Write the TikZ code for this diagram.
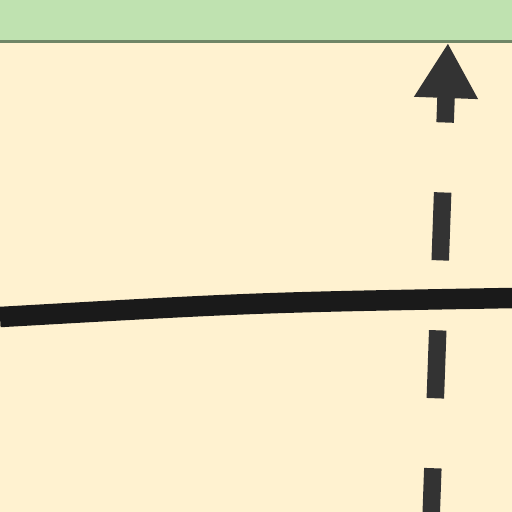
\documentclass[tikz,border=0pt]{standalone}
\usepackage{tikz}
\usetikzlibrary{arrows.meta, positioning}
\definecolor{laneYellow}{RGB}{255,242,208}
\definecolor{goalGreen}{RGB}{191,226,176}
\definecolor{goalEdge}{RGB}{112,134,102}
\definecolor{flowGray}{RGB}{51,51,51}
\definecolor{routeBlack}{RGB}{26,26,26}

\begin{document}
\begin{tikzpicture}[x=0.02cm, y=-0.02cm,
    goal/.style={draw=goalEdge, line width=0.06cm, fill=goalGreen, rectangle, inner sep=0pt},
    dep/.style={draw=flowGray, line width=0.35cm, dash pattern=on 1.36cm off 1.4cm, dash phase=0.80cm, {Triangle[length=1.1cm, width=1.2cm]}-},
    route/.style={draw=routeBlack, line width=0.41cm}]
    % Frame
    \useasboundingbox (0,0) rectangle (512,512);
    \clip (0,0) rectangle (512,512);
    \fill[laneYellow] (0,0) rectangle (512,512);

    % Nodes
    \node[goal, minimum width=10.8cm, minimum height=1.3cm, anchor=south] (Goal) at (256,43) {};
    \coordinate (Start) at (431,520);
    \coordinate (West) at (0,317);
    \coordinate (Bend) at (256,302.5);
    \coordinate (East) at (512,298);

    % Route line
    \draw[route] (West) .. controls (Bend) .. (East);

    % Arrow (dependency)
    \draw[dep] ([xshift=3.84cm]Goal.south) -- (Start);

\end{tikzpicture}
\end{document}
